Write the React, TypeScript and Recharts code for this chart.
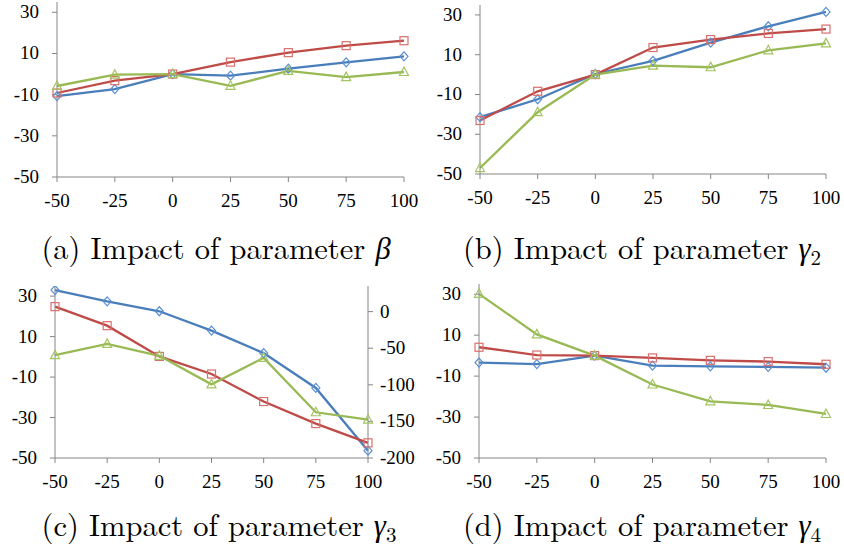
import { LineChart, Line, XAxis, YAxis } from 'recharts'

const xValues = [-50, -25, 0, 25, 50, 75, 100]
const leftTicks = [-50, -30, -10, 10, 30]
const rightTicks = [-200, -150, -100, -50, 0]

// (a) parameter beta
const betaBlue = [-10.7, -7.3, 0, -0.8, 2.6, 5.7, 8.6]
const betaRed = [-9.2, -3.2, 0, 5.8, 10.4, 13.8, 16.2]
const betaGreen = [-5.8, -0.3, 0, -5.7, 1.5, -1.5, 1.0]

// (b) parameter gamma2
const g2Blue = [-21.4, -12.4, 0.3, 6.9, 16.1, 24.3, 31.5]
const g2Red = [-23.1, -8.4, 0, 13.6, 17.6, 20.7, 22.9]
const g2Green = [-47, -18.9, 0, 4.5, 3.7, 12.2, 15.7]

// (c) parameter gamma3 (blue uses the right axis)
const g3Blue = [29.5, 14, 0.5, -25.9, -56.7, -104.3, -190]
const g3Red = [24.8, 15.4, 0.2, -8.5, -22.1, -33, -42.5]
const g3Green = [0.8, 6.4, 0.5, -13.6, -0.5, -27.4, -31]

// (d) parameter gamma4
const g4Blue = [-3.4, -4.1, 0, -4.9, -5.2, -5.5, -5.9]
const g4Red = [4.1, 0.3, 0, -1.1, -2.3, -2.9, -4.2]
const g4Green = [30.2, 10.4, 0, -14.1, -22.3, -24.1, -28.5]

const TICK_FONT = '"Liberation Serif", serif'
const CAP_FONT = '"Latin Modern Roman", "Liberation Serif", serif'
const AXIS = '#868686'
const BLUE = '#4a7ebb'
const RED = '#be4b48'
const GREEN = '#98b954'

const toRows = (blue: number[], red: number[], green: number[]) =>
  xValues.map((x, i) => ({ x, blue: blue[i], red: red[i], green: green[i] }))

const diamond = (p: any) => {
  const { cx, cy, index } = p
  if (cx == null || cy == null) return <g key={index} />
  return (
    <path
      key={index}
      d={`M${cx},${cy - 4.5}L${cx + 4},${cy}L${cx},${cy + 4.5}L${cx - 4},${cy}Z`}
      fill="none"
      stroke="#5a8fd4"
      strokeWidth={1.2}
    />
  )
}

const square = (p: any) => {
  const { cx, cy, index } = p
  if (cx == null || cy == null) return <g key={index} />
  return (
    <rect
      key={index}
      x={cx - 4}
      y={cy - 4}
      width={8}
      height={8}
      fill="none"
      stroke="#d9706d"
      strokeWidth={1.2}
    />
  )
}

const triangle = (p: any) => {
  const { cx, cy, index } = p
  if (cx == null || cy == null) return <g key={index} />
  return (
    <path
      key={index}
      d={`M${cx},${cy - 5}L${cx + 4.5},${cy + 3.5}L${cx - 4.5},${cy + 3.5}Z`}
      fill="none"
      stroke="#a3c463"
      strokeWidth={1.2}
    />
  )
}

// tick labels drawn as html text so the serif font is used
const labelStyle = (align: 'left' | 'right' | 'center') => ({
  fontFamily: TICK_FONT,
  fontSize: 19,
  lineHeight: '24px',
  color: '#000',
  textAlign: align,
  whiteSpace: 'nowrap' as const,
})

const XTick = (p: any) => (
  <foreignObject x={p.x - 30} y={p.y} width={60} height={24}>
    <div style={labelStyle('center')}>{p.payload.value}</div>
  </foreignObject>
)

const LeftTick = (p: any) => (
  <foreignObject x={p.x - 50} y={p.y - 12} width={50} height={24}>
    <div style={labelStyle('right')}>{p.payload.value}</div>
  </foreignObject>
)

const RightTick = (p: any) => (
  <foreignObject x={p.x} y={p.y - 12} width={50} height={24}>
    <div style={labelStyle('left')}>{p.payload.value}</div>
  </foreignObject>
)

interface PanelProps {
  left: number
  top: number
  plotLeft: number
  plotRight: number
  plotTop: number
  plotBottom: number
  rows: any[]
  blueRight?: boolean
}

const W = 422
const H = 240
const XH = 40

function Panel({ left, top, plotLeft, plotRight, plotTop, plotBottom, rows, blueRight }: PanelProps) {
  const rightW = blueRight ? W - plotRight : 0
  return (
    <div style={{ position: 'absolute', left, top }}>
      <LineChart
        width={W}
        height={H}
        data={rows}
        margin={{
          top: plotTop,
          left: 0,
          right: blueRight ? 0 : W - plotRight,
          bottom: H - XH - plotBottom,
        }}
      >
        <XAxis
          dataKey="x"
          type="number"
          domain={[-50, 100]}
          ticks={xValues}
          height={XH}
          stroke={AXIS}
          tickSize={5}
          tickMargin={7}
          tick={XTick}
          interval={0}
        />
        <YAxis
          yAxisId="left"
          domain={[-50, 35]}
          ticks={leftTicks}
          width={plotLeft}
          stroke={AXIS}
          tickSize={5}
          tickMargin={13}
          tick={LeftTick}
          interval={0}
          allowDataOverflow
        />
        {blueRight && (
          <YAxis
            yAxisId="right"
            orientation="right"
            domain={[-200, 35]}
            ticks={rightTicks}
            width={rightW}
            stroke={AXIS}
            tickSize={5}
            tickMargin={7}
            tick={RightTick}
            interval={0}
            allowDataOverflow
          />
        )}
        <Line
          yAxisId={blueRight ? 'right' : 'left'}
          dataKey="blue"
          stroke={BLUE}
          strokeWidth={2.3}
          dot={diamond}
          isAnimationActive={false}
        />
        <Line
          yAxisId="left"
          dataKey="red"
          stroke={RED}
          strokeWidth={2.3}
          dot={square}
          isAnimationActive={false}
        />
        <Line
          yAxisId="left"
          dataKey="green"
          stroke={GREEN}
          strokeWidth={2.3}
          dot={triangle}
          isAnimationActive={false}
        />
      </LineChart>
    </div>
  )
}

function Caption({ cx, top, tag, sym, sub }: { cx: number; top: number; tag: string; sym: string; sub?: string }) {
  return (
    <div
      style={{
        position: 'absolute',
        left: cx - 211,
        top,
        width: 422,
        textAlign: 'center',
        fontFamily: CAP_FONT,
        fontSize: 30.5,
        lineHeight: 1,
        whiteSpace: 'nowrap',
        color: '#000',
      }}
    >
      {`(${tag}) Impact of parameter `}
      <span style={{ fontFamily: '"Liberation Serif", serif', fontStyle: 'italic', fontWeight: 400 }}>{sym}</span>
      {sub && <sub style={{ fontSize: 21, verticalAlign: -6 }}>{sub}</sub>}
    </div>
  )
}

export default function App() {
  return (
    <div style={{ position: 'absolute', left: 0, top: 0, width: 844, height: 554, background: '#fff' }}>
      <Panel left={0} top={0} plotLeft={57} plotRight={404} plotTop={2} plotBottom={177} rows={toRows(betaBlue, betaRed, betaGreen)} />
      <Panel left={422} top={0} plotLeft={58} plotRight={404} plotTop={5} plotBottom={174} rows={toRows(g2Blue, g2Red, g2Green)} />
      <Panel left={0} top={277} plotLeft={55} plotRight={368} plotTop={9} plotBottom={181} rows={toRows(g3Blue, g3Red, g3Green)} blueRight />
      <Panel left={422} top={277} plotLeft={57} plotRight={404} plotTop={7} plotBottom={181} rows={toRows(g4Blue, g4Red, g4Green)} />
      <Caption cx={216} top={232} tag="a" sym="β" />
      <Caption cx={642} top={232} tag="b" sym="γ" sub="2" />
      <Caption cx={219} top={509} tag="c" sym="γ" sub="3" />
      <Caption cx={642} top={509} tag="d" sym="γ" sub="4" />
    </div>
  )
}
